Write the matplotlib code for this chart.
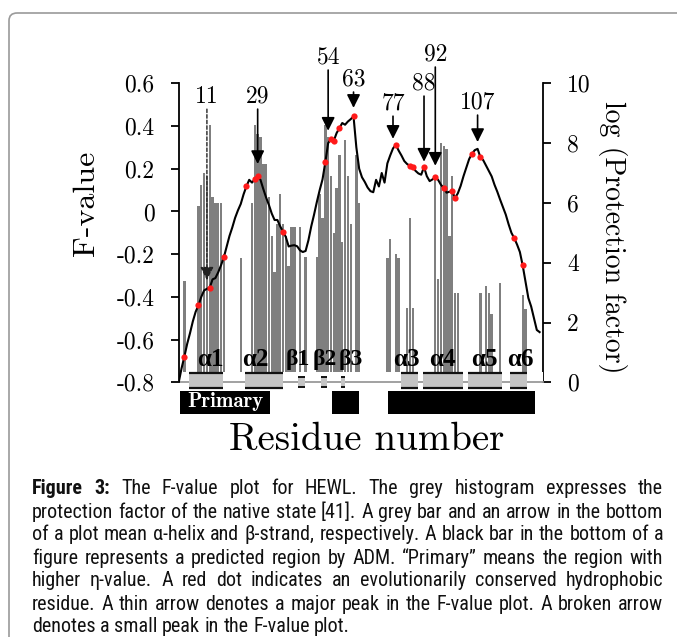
import matplotlib
matplotlib.use('Agg')
import matplotlib.pyplot as plt
from matplotlib import font_manager as fm
from matplotlib.patches import Rectangle, FancyBboxPatch

# ---------------- data ----------------
residues = list(range(1, 130))
f_value = [
    -0.800, -0.735, -0.680, -0.620, -0.570, -0.515, -0.470, -0.440, -0.400, -0.370,
    -0.362, -0.357, -0.318, -0.312, -0.285, -0.252, -0.215, -0.165, -0.115, -0.075,
    -0.030, 0.005, 0.035, 0.080, 0.117, 0.148, 0.135, 0.152, 0.164, 0.148,
    0.105, 0.065, 0.030, -0.010, -0.040, -0.040, -0.070, -0.094, -0.120, -0.164,
    -0.160, -0.158, -0.163, -0.182, -0.190, -0.185, -0.135, -0.070, -0.015, 0.045,
    0.100, 0.150, 0.231, 0.320, 0.339, 0.331, 0.367, 0.390, 0.414, 0.406,
    0.421, 0.432, 0.445, 0.300, 0.200, 0.160, 0.138, 0.112, 0.095, 0.090,
    0.148, 0.117, 0.180, 0.135, 0.225, 0.262, 0.295, 0.312, 0.285, 0.262,
    0.236, 0.222, 0.214, 0.206, 0.190, 0.178, 0.172, 0.208, 0.165, 0.142,
    0.150, 0.161, 0.148, 0.125, 0.110, 0.088, 0.092, 0.094, 0.063, 0.085,
    0.120, 0.165, 0.205, 0.245, 0.270, 0.287, 0.293, 0.254, 0.240, 0.215,
    0.190, 0.164, 0.125, 0.092, 0.055, 0.020, -0.015, -0.060, -0.100, -0.125,
    -0.155, -0.190, -0.253, -0.330, -0.405, -0.445, -0.500, -0.555, -0.565,
]
conserved = [3, 8, 12, 17, 25, 28, 29, 38, 53, 55, 56, 58, 63, 78, 83, 84,
             88, 92, 95, 98, 99, 105, 108, 120, 123]

pf_residues = [3, 8, 9, 10, 11, 12, 13, 14, 15, 16, 17, 23,
               27, 28, 29, 30, 31, 32, 33, 34, 35, 36, 37, 38, 39, 40, 41, 42,
               44, 46, 50, 51, 52, 53, 54, 55, 56, 57, 58, 59, 60, 61, 62,
               64, 65, 75, 76, 78, 79, 82, 83, 84,
               92, 93, 94, 95, 96, 97, 98, 99, 100,
               108, 110, 111, 112, 115, 123, 124]
pf_values = [3.4, 5.9, 6.6, 7.0, 6.9, 8.6, 6.2, 6.0, 6.0, 6.0, 4.3, 4.15,
             6.0, 8.6, 8.3, 8.2, 7.3, 7.3, 6.2, 4.9, 3.7, 5.3, 6.3, 5.3, 4.9, 3.9, 5.2, 5.2,
             5.2, 4.2, 4.2, 6.3, 5.5, 8.6, 8.2, 6.9, 5.0, 6.5, 7.6, 4.7, 8.1, 6.9, 5.3,
             7.6, 6.0, 4.15, 4.8, 4.3, 4.15, 2.5, 5.5, 2.5,
             6.9, 3.45, 8.0, 7.9, 7.8, 4.9, 6.9, 3.0, 3.0,
             3.0, 3.22, 3.0, 2.3, 3.33, 2.92, 2.45]

major_peaks = [29, 54, 63, 77, 88, 92, 107]
minor_peaks = [11]

helix_names = ['α1', 'α2', 'α3', 'α4', 'α5', 'α6']
helix_start = [4.8, 24.5, 80.0, 87.7, 103.7, 118.5]
helix_end = [16.6, 38.1, 86.0, 101.7, 115.5, 124.6]
strand_names = ['β1', 'β2', 'β3']
strand_start = [43.4, 51.4, 58.4]
strand_end = [45.8, 53.7, 60.0]

adm_start = [1.5, 55.3, 75.3]
adm_end = [33.5, 65.1, 127.3]
adm_text = ['Primary', '', '']

left_ticks = [0.6, 0.4, 0.2, 0.0, -0.2, -0.4, -0.6, -0.8]
left_ticklabels = ['0.6', '0.4', '0.2', '0', '-0.2', '-0.4', '-0.6', '-0.8']
right_ticks = [0, 2, 4, 6, 8, 10]
right_ticklabels = ['0', '2', '4', '6', '8', '10']

caption_lines = [
    "Figure 3: The F-value plot for HEWL. The grey histogram expresses the",
    "protection factor of the native state [41]. A grey bar and an arrow in the bottom",
    "of a plot mean \u03b1-helix and \u03b2-strand, respectively. A black bar in the bottom of a",
    "figure represents a predicted region by ADM. \u201cPrimary\u201d means the region with",
    "higher \u03b7-value. A red dot indicates an evolutionarily conserved hydrophobic",
    "residue. A thin arrow denotes a major peak in the F-value plot. A broken arrow",
    "denotes a small peak in the F-value plot.",
]

# ---------------- layout / style ----------------
W, H, DPI = 677, 637, 100
SERIF = 'cmr10'
BOLDSERIF = 'cmb10'


def _wnum(w):
    if isinstance(w, (int, float)):
        return w
    return {'normal': 400, 'regular': 400, 'book': 400, 'medium': 500,
            'bold': 700, 'semibold': 600, 'demibold': 600}.get(str(w).lower(), 400)


def find_caption_fonts():
    prefs = ['Liberation Sans Narrow', 'Arial Narrow', 'Roboto Condensed',
             'Open Sans Condensed', 'Noto Sans', 'DejaVu Sans']
    entries = fm.fontManager.ttflist
    for pref in prefs:
        reg = bold = None
        for f in entries:
            nm = f.name
            narrow = ('Narrow' in nm or 'Condensed' in nm or
                      str(f.stretch).lower() in ('condensed', 'semi-condensed', 'extra-condensed')
                      or 'Condensed' in f.fname or 'Narrow' in f.fname)
            if not nm.startswith(pref.split(' Condensed')[0].split(' Narrow')[0]):
                continue
            if not narrow or f.style != 'normal':
                continue
            w = _wnum(f.weight)
            if 350 <= w <= 450 and reg is None:
                reg = f.fname
            if 650 <= w <= 750 and bold is None:
                bold = f.fname
        if reg and bold:
            return fm.FontProperties(fname=reg), fm.FontProperties(fname=bold)
    return (fm.FontProperties(family='Liberation Sans'),
            fm.FontProperties(family='Liberation Sans', weight='bold'))


cap_reg, cap_bold = find_caption_fonts()

fig = plt.figure(figsize=(W / DPI, H / DPI), dpi=DPI)
fig.patch.set_facecolor('white')


def px(x, y):
    return x / W, 1 - y / H


ax_l, ax_r, ax_t, ax_b = 179, 543, 83.3, 382.3
ax = fig.add_axes([ax_l / W, 1 - ax_b / H, (ax_r - ax_l) / W, (ax_b - ax_t) / H])
ax2 = ax.twinx()

xmin, xmax = 1.1, 130.2
ax.set_xlim(xmin, xmax)
ax.set_ylim(0, 10)
ax2.set_ylim(-0.8, 0.6)

# histogram on protection-factor axis (right)
ax.bar(pf_residues, pf_values, width=0.85, color='#7f7f7f', linewidth=0, zorder=2)
ax.axhspan(0, 0.34, color='white', zorder=3, linewidth=0)

# F-value curve on left axis
ax2.plot([xmin, xmax], [-0.8, -0.8], color='#9a9a9a', lw=1.3, zorder=2, clip_on=False)
ax2.plot(residues, f_value, color='black', lw=1.5, zorder=4)
cons_f = [f_value[r - 1] for r in conserved]
ax2.plot(conserved, cons_f, 'o', color='#ff1a1a', ms=4.5, mec='none', zorder=5)

# arrows
label_y = {11: 0.537, 29: 0.537, 54: 0.72, 63: 0.617, 77: 0.504, 88: 0.598, 92: 0.734, 107: 0.509}
tip_gap = {11: 0.04, 29: 0.058, 54: 0.058, 63: 0.04, 77: 0.045, 88: 0.025, 92: 0.053, 107: 0.032}
for r in major_peaks + minor_peaks:
    tip = f_value[r - 1] + tip_gap[r]
    top = label_y[r] - 0.058
    dashed = r in minor_peaks
    ax2.annotate('', xy=(r, tip), xytext=(r, top),
                 arrowprops=dict(arrowstyle='-|>,head_length=0.8,head_width=0.4',
                                 color='#222222' if dashed else 'black',
                                 lw=1.0 if dashed else 1.2,
                                 ls=(0, (2.5, 1.5)) if dashed else '-',
                                 shrinkA=0, shrinkB=0, mutation_scale=10),
                 annotation_clip=False, zorder=6)
    ax2.text(r, label_y[r], str(r), ha='center', va='center', fontsize=17,
             family=SERIF, clip_on=False, zorder=6)

# secondary structure
box_bot, box_top = -0.827, -0.757
for s, e in zip(helix_start, helix_end):
    ax2.add_patch(Rectangle((s, box_bot), e - s, box_top - box_bot, facecolor='#c4c4c4',
                            edgecolor='none', clip_on=False, zorder=5))
    ax2.plot([s, e], [box_top, box_top], color='#111111', lw=1.6, clip_on=False, zorder=6,
             solid_capstyle='butt')
    ax2.plot([s, e], [box_bot, box_bot], color='#111111', lw=1.6, clip_on=False, zorder=6,
             solid_capstyle='butt')
for s, e in zip(strand_start, strand_end):
    ax2.add_patch(Rectangle((s, -0.822), e - s, 0.045, facecolor='#c4c4c4',
                            edgecolor='none', clip_on=False, zorder=5))
    ax2.plot([s, e], [-0.777, -0.777], color='#111111', lw=1.4, clip_on=False, zorder=6,
             solid_capstyle='butt')
    ax2.plot([s, e], [-0.822, -0.822], color='#111111', lw=1.4, clip_on=False, zorder=6,
             solid_capstyle='butt')

ss_label_x = [12.1, 28.1, 81.7, 94.4, 109.3, 122.0]
for name, xpos in zip(helix_names, ss_label_x):
    ax2.text(xpos, -0.694, name, ha='center', va='center', fontsize=18,
             family='Liberation Serif', weight='bold', zorder=6, clip_on=False)
strand_label_x = [43.3, 52.9, 62.1]
for name, xpos in zip(strand_names, strand_label_x):
    ax2.text(xpos, -0.694, name, ha='center', va='center', fontsize=17,
             family='Liberation Serif', weight='bold', zorder=6, clip_on=False)

# ADM predicted regions
for s, e, t in zip(adm_start, adm_end, adm_text):
    ax2.add_patch(Rectangle((s, -0.948), e - s, 0.109, facecolor='black',
                            edgecolor='none', clip_on=False, zorder=5))
    if t:
        ax2.text(s + 2.4, -0.892, t, ha='left', va='center', fontsize=15,
                 family=BOLDSERIF, color='white', zorder=6, clip_on=False)

# axes styling
for a in (ax, ax2):
    for sp in a.spines.values():
        sp.set_visible(False)
    a.tick_params(axis='x', bottom=False, top=False, labelbottom=False, labeltop=False)
ax.spines['right'].set_visible(True)
ax.spines['right'].set_bounds(0, 10)
ax.spines['right'].set_linewidth(1.3)
ax2.spines['left'].set_visible(True)
ax2.spines['left'].set_bounds(-0.8, 0.6)
ax2.spines['left'].set_linewidth(1.3)
ax.yaxis.tick_right()
ax2.yaxis.tick_left()
ax.set_yticks(right_ticks)
ax.set_yticklabels(right_ticklabels, family=SERIF, fontsize=17)
ax2.set_yticks(left_ticks)
ax2.set_yticklabels(left_ticklabels, family=SERIF, fontsize=17)
ax.tick_params(axis='y', direction='out', length=5.5, width=1.3, pad=12)
ax2.tick_params(axis='y', direction='out', length=5.5, width=1.3, pad=12)
ax.patch.set_visible(False)

fig.text(*px(86, 203), 'F-value', rotation=90, ha='center', va='center',
         rotation_mode='anchor', fontsize=23, family=SERIF)
fig.text(*px(612, 237), 'log (Protection factor)', rotation=270, ha='center', va='center',
         rotation_mode='anchor', fontsize=20, family=SERIF)
fig.text(*px(366.5, 440), 'Residue number', ha='center', va='center', fontsize=28,
         family=SERIF)

# page frame
frame = FancyBboxPatch((9 / W, -0.2), 1.2, (1 - 13 / H) + 0.2,
                       boxstyle='round,pad=0,rounding_size=0.012',
                       transform=fig.transFigure, facecolor='none',
                       edgecolor='#9a9a9a', lw=1.2)
fig.patches.append(frame)

# caption, justified
renderer = fig.canvas.get_renderer()
x_left, x_right = 32, 663
line_y0, line_dy = 489, 23.0


def text_w(s, size, bold=False):
    t = fig.text(0, 0, s, fontproperties=(cap_bold if bold else cap_reg), fontsize=size)
    w = t.get_window_extent(renderer).width
    t.remove()
    return w


base = 10.0
space_base = text_w('a a', base) - text_w('aa', base)
nat = []
for i, line in enumerate(caption_lines[:-1]):
    words = line.split(' ')
    ww = sum(text_w(w, base, bold=(i == 0 and j < 2)) for j, w in enumerate(words))
    nat.append(ww + space_base * (len(words) - 1))
cap_size = base * (x_right - x_left) * 0.985 / max(nat)
cap_size = min(cap_size, 15.0)

for i, line in enumerate(caption_lines):
    words = line.split(' ')
    bolds = [(i == 0 and j < 2) for j in range(len(words))]
    widths = [text_w(w, cap_size, b) for w, b in zip(words, bolds)]
    if i < len(caption_lines) - 1:
        gap = (x_right - x_left - sum(widths)) / (len(words) - 1)
    else:
        gap = space_base * cap_size / base
    xcur = x_left
    y = line_y0 + i * line_dy
    for w, b, wd in zip(words, bolds, widths):
        fig.text(xcur / W, 1 - y / H, w, fontproperties=(cap_bold if b else cap_reg),
                 fontsize=cap_size, va='center', ha='left', color='#111111')
        xcur += wd + gap

fig.savefig('out.png', dpi=DPI)
